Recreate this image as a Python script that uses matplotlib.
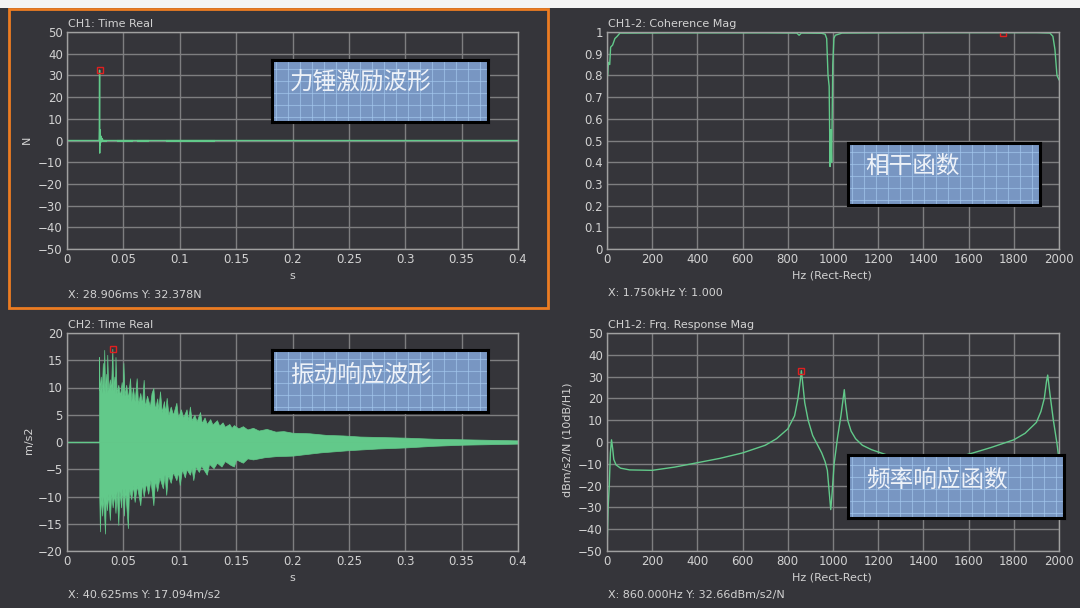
import matplotlib.pyplot as plt
from matplotlib.patches import Rectangle

# 力锤激励 (CH1 time)
hammer_t = [0, 0.0285, 0.0287, 0.0289, 0.0290, 0.0291, 0.0293, 0.0295, 0.0298, 0.0302, 0.0306, 0.0310, 0.0320, 0.4]
hammer_f = [0, 0, 5.0, 32.4, -5.8, 5.0, -2.0, 3.0, -1.0, 2.0, 0.5, 1.0, 0, 0]
hammer_noise = [(0.031, 0.035), (0.045, 0.058), (0.063, 0.072), (0.089, 0.130)]

# 振动响应 (CH2 time) 上下包络
up_t = [0.0284, 0.0289, 0.0300, 0.0308, 0.0318, 0.0325, 0.0330, 0.0338, 0.0348, 0.0352,
        0.0357, 0.0366, 0.0380, 0.0390, 0.0402, 0.0410, 0.0420, 0.0425, 0.0430, 0.0440,
        0.0455, 0.0470, 0.0485, 0.0492, 0.0500, 0.0510, 0.0525, 0.0540, 0.0559, 0.0570,
        0.0585, 0.0600, 0.0618, 0.0630, 0.0650, 0.0665, 0.0680, 0.0690, 0.0710, 0.0735,
        0.0750, 0.0766, 0.0780, 0.0800, 0.0810, 0.0825, 0.0840, 0.0860, 0.0870, 0.0884,
        0.0900, 0.0920, 0.0940, 0.0970, 0.0985, 0.1010, 0.1030, 0.1060, 0.1075, 0.1090,
        0.1105, 0.1130, 0.1150, 0.1180, 0.1195, 0.1220, 0.1240, 0.1270, 0.1290, 0.1330,
        0.1350, 0.1380, 0.1400, 0.1440, 0.1460, 0.1480, 0.1520, 0.1560, 0.1600, 0.1650,
        0.1700, 0.1770, 0.1850, 0.1920, 0.2000, 0.2150, 0.2300, 0.2450, 0.2600, 0.2800,
        0.3000, 0.3250, 0.3500, 0.3750, 0.4000]
up_v = [15.6, 9.5, 12.0, 9.0, 14.5, 9.5, 16.9, 9.0, 12.5, 9.0,
        16.0, 9.5, 11.5, 9.5, 17.1, 9.5, 12.0, 9.0, 15.6, 9.0,
        10.5, 8.5, 11.0, 8.5, 14.5, 8.5, 10.5, 8.0, 11.7, 7.5,
        10.0, 7.5, 11.7, 7.0, 9.0, 7.0, 11.4, 6.5, 8.5, 6.5,
        9.0, 9.9, 6.0, 8.0, 6.0, 9.3, 5.5, 7.5, 5.5, 8.1,
        5.0, 6.5, 5.0, 7.2, 4.5, 6.0, 4.5, 6.0, 4.0, 6.5,
        4.0, 5.0, 3.8, 5.5, 3.5, 4.5, 3.3, 4.2, 3.2, 4.0,
        3.0, 3.6, 2.8, 3.3, 2.6, 3.1, 2.5, 2.9, 2.3, 2.6,
        2.1, 2.4, 1.9, 2.0, 1.7, 1.6, 1.3, 1.2, 1.0, 0.9,
        0.8, 0.6, 0.5, 0.4, 0.3]
low_t = [0.0286, 0.0292, 0.0300, 0.0312, 0.0322, 0.0337, 0.0345, 0.0355, 0.0365, 0.0380,
         0.0392, 0.0405, 0.0418, 0.0430, 0.0440, 0.0455, 0.0465, 0.0480, 0.0490, 0.0505,
         0.0515, 0.0540, 0.0550, 0.0570, 0.0585, 0.0600, 0.0620, 0.0650, 0.0665, 0.0680,
         0.0700, 0.0720, 0.0740, 0.0766, 0.0780, 0.0800, 0.0820, 0.0850, 0.0865, 0.0880,
         0.0895, 0.0920, 0.0940, 0.0970, 0.0985, 0.1000, 0.1020, 0.1045, 0.1060, 0.1090,
         0.1105, 0.1120, 0.1140, 0.1170, 0.1190, 0.1210, 0.1240, 0.1260, 0.1300, 0.1330,
         0.1370, 0.1400, 0.1450, 0.1480, 0.1500, 0.1560, 0.1600, 0.1650, 0.1750, 0.1850,
         0.2000, 0.2250, 0.2500, 0.2750, 0.3000, 0.3250, 0.3500, 0.3750, 0.4000]
low_v = [-10.0, -16.4, -10.0, -13.5, -10.0, -16.8, -10.0, -12.5, -9.5, -14.3,
         -9.5, -12.0, -9.5, -13.0, -9.0, -15.2, -9.0, -12.0, -8.5, -13.5,
         -8.5, -15.8, -8.5, -10.5, -8.0, -11.0, -8.0, -11.6, -7.5, -10.0,
         -7.5, -9.5, -7.0, -11.6, -7.0, -9.0, -6.5, -8.5, -6.0, -9.7,
         -6.0, -7.5, -5.5, -7.0, -5.5, -7.9, -5.0, -6.5, -5.0, -6.0,
         -4.8, -7.0, -4.5, -5.5, -4.3, -5.0, -6.0, -4.0, -4.8, -3.8,
         -4.5, -3.5, -4.2, -4.5, -3.2, -3.8, -3.0, -3.2, -2.8, -2.6,
         -2.5, -1.9, -1.5, -1.2, -1.0, -0.7, -0.5, -0.4, -0.3]

# 相干函数
coh_f = [3, 6, 12, 16, 25, 35, 45, 57, 100, 300, 500, 700, 840, 850, 860, 950, 965, 972, 978, 983,
         987, 990, 994, 999, 1004, 1010, 1040, 1200, 1500, 1750, 1900, 1960, 1973, 1982, 1991, 2000]
coh_v = [0.80, 0.86, 0.85, 0.93, 0.94, 0.97, 0.98, 0.995, 0.995, 0.996, 0.996, 0.996, 0.995, 0.985, 0.995,
         0.994, 0.99, 0.97, 0.80, 0.75, 0.38, 0.55, 0.40, 0.85, 0.97, 0.985, 0.995, 0.996, 0.997, 0.997,
         0.997, 0.995, 0.98, 0.92, 0.80, 0.78]

# 频率响应函数
frf_f = [0, 5, 10, 15, 20, 25, 30, 40, 60, 100, 200, 300, 400, 500, 600, 700, 750, 800, 830, 845,
         855, 860, 865, 875, 890, 910, 930, 950, 965, 975, 985, 990, 995, 1005, 1020, 1035, 1045,
         1050, 1055, 1065, 1080, 1100, 1130, 1170, 1240, 1350, 1450, 1550, 1620, 1700, 1800, 1850,
         1900, 1920, 1935, 1945, 1950, 1960, 1975, 1990, 2000]
frf_db = [-50, -30, -20, -5, 1, -3, -8, -10.5, -12, -12.8, -13, -11.5, -9.5, -7.5, -5, -1.5, 1.5, 6, 12, 20,
          28, 32.7, 28, 18, 10, 3, -1, -5, -9, -13, -25, -31, -25, -10, 2, 12, 20,
          24, 18, 10, 5, 1.5, -1.5, -3.5, -6, -7.5, -8, -7, -5, -2.5, 1, 4,
          9, 14, 20, 28, 30.7, 22, 10, 0, -8]

bg = '#35353a'
fg = '#d2d2d2'
grid_c = '#7e7e80'
line_c = '#62c98a'
plt.rcParams['font.family'] = ['DejaVu Sans', 'Noto Sans CJK SC']

fig = plt.figure(figsize=(10.8, 6.08), dpi=100, facecolor=bg)
W, H = 1080, 608


def px_axes(x0, y0, x1, y1):
    return fig.add_axes([x0 / W, 1 - y1 / H, (x1 - x0) / W, (y1 - y0) / H])


def num(v):
    return ('%g' % v).replace('-', '\u2212')


def style(ax, xlim, ylim, xticks, yticks):
    ax.set_facecolor(bg)
    ax.set_xlim(xlim)
    ax.set_ylim(ylim)
    ax.set_xticks(xticks)
    ax.set_yticks(yticks)
    ax.set_xticklabels([num(v) for v in xticks], fontsize=8.5, color=fg)
    ax.set_yticklabels([num(v) for v in yticks], fontsize=8.5, color=fg)
    ax.tick_params(length=0, pad=3)
    ax.grid(True, color=grid_c, lw=1.0)
    ax.set_axisbelow(True)
    for s in ax.spines.values():
        s.set_color('#a0a0a0')
        s.set_linewidth(1.0)


def label_box(x0, y0, x1, y1, text, tx, ty):
    b = px_axes(x0, y0, x1, y1)
    b.set_facecolor('#7896c2')
    b.set_xlim(0, x1 - x0)
    b.set_ylim(0, y1 - y0)
    for gx in range(4, x1 - x0, 12):
        b.axvline(gx, color='#a4c8ee', lw=0.8, alpha=0.65)
    for gy in range(5, y1 - y0, 12):
        b.axhline(gy, color='#a4c8ee', lw=0.8, alpha=0.65)
    b.set_xticks([])
    b.set_yticks([])
    for s in b.spines.values():
        s.set_color('black')
        s.set_linewidth(2.2)
    fig.text(tx / W, 1 - ty / H, text, fontsize=17, color='#eef2f8', family='Noto Sans CJK SC',
             fontweight='light', va='center', ha='left')


# CH1 time
ax1 = px_axes(67, 32, 518, 249)
ax1.plot(hammer_t, hammer_f, color=line_c, lw=1.0)
for a, b in hammer_noise:
    ax1.plot([a, b], [-0.3, -0.3], color=line_c, lw=1.5)
ax1.plot([0.0289], [32.4], marker='s', ms=5, mfc='none', mec='#e02020', mew=1.0)
style(ax1, (0, 0.4), (-50, 50), [i * 0.05 for i in range(9)], list(range(-50, 51, 10)))

# CH1-2 coherence
ax2 = px_axes(607, 32, 1059, 249)
ax2.plot(coh_f, coh_v, color=line_c, lw=1.0)
ax2.plot([1750], [0.997], marker='s', ms=5, mfc='none', mec='#e02020', mew=1.0)
style(ax2, (0, 2000), (0, 1), list(range(0, 2001, 200)), [i / 10 for i in range(11)])

# CH2 time
ax3 = px_axes(67, 333, 518, 551)
ax3.plot([0, 0.0284], [0, 0], color=line_c, lw=1.0)
ax3.fill_between(up_t, 0, up_v, color=line_c, lw=0.5)
ax3.fill_between(low_t, low_v, 0, color=line_c, lw=0.5)
ax3.plot([0.0406], [17.094], marker='s', ms=5, mfc='none', mec='#e02020', mew=1.0)
style(ax3, (0, 0.4), (-20, 20), [i * 0.05 for i in range(9)], list(range(-20, 21, 5)))

# CH1-2 FRF
ax4 = px_axes(607, 333, 1059, 551)
ax4.plot(frf_f, frf_db, color=line_c, lw=1.0)
ax4.plot([860], [32.66], marker='s', ms=5, mfc='none', mec='#e02020', mew=1.0)
style(ax4, (0, 2000), (-50, 50), list(range(0, 2001, 200)), list(range(-50, 51, 10)))

small = dict(fontsize=8, color=fg, va='center')
fig.text(68 / W, 1 - 24 / H, 'CH1: Time Real', **small)
fig.text(608 / W, 1 - 24 / H, 'CH1-2: Coherence Mag', **small)
fig.text(68 / W, 1 - 325 / H, 'CH2: Time Real', **small)
fig.text(608 / W, 1 - 325 / H, 'CH1-2: Frq. Response Mag', **small)

fig.text(292 / W, 1 - 276 / H, 's', ha='center', **small)
fig.text(832 / W, 1 - 276 / H, 'Hz (Rect-Rect)', ha='center', **small)
fig.text(292 / W, 1 - 578 / H, 's', ha='center', **small)
fig.text(832 / W, 1 - 577 / H, 'Hz (Rect-Rect)', ha='center', **small)

fig.text(27 / W, 1 - 140 / H, 'N', rotation=90, ha='center', **small)
fig.text(29 / W, 1 - 440 / H, 'm/s2', rotation=90, ha='center', **small)
fig.text(568 / W, 1 - 440 / H, 'dBm/s2/N (10dB/H1)', rotation=90, ha='center', **small)

fig.text(68 / W, 1 - 295 / H, 'X: 28.906ms Y: 32.378N', **small)
fig.text(608 / W, 1 - 293 / H, 'X: 1.750kHz Y: 1.000', **small)
fig.text(68 / W, 1 - 595 / H, 'X: 40.625ms Y: 17.094m/s2', **small)
fig.text(608 / W, 1 - 595 / H, 'X: 860.000Hz Y: 32.66dBm/s2/N', **small)

label_box(272, 60, 488, 122, '力锤激励波形', 290, 83)
label_box(848, 143, 1040, 205, '相干函数', 865, 166)
label_box(272, 350, 488, 412, '振动响应波形', 290, 375)
label_box(848, 455, 1064, 518, '频率响应函数', 866, 480)

# 顶部白条和橙色选中框
fig.patches.append(Rectangle((0, 1 - 8 / H), 1, 8 / H, transform=fig.transFigure,
                             facecolor='#f4f4f4', edgecolor='none'))
fig.patches.append(Rectangle((9 / W, 1 - 308 / H), 539 / W, 299 / H, transform=fig.transFigure,
                             facecolor='none', edgecolor='#ec7c22', lw=2))

fig.savefig('out.png', dpi=100, facecolor=bg)
